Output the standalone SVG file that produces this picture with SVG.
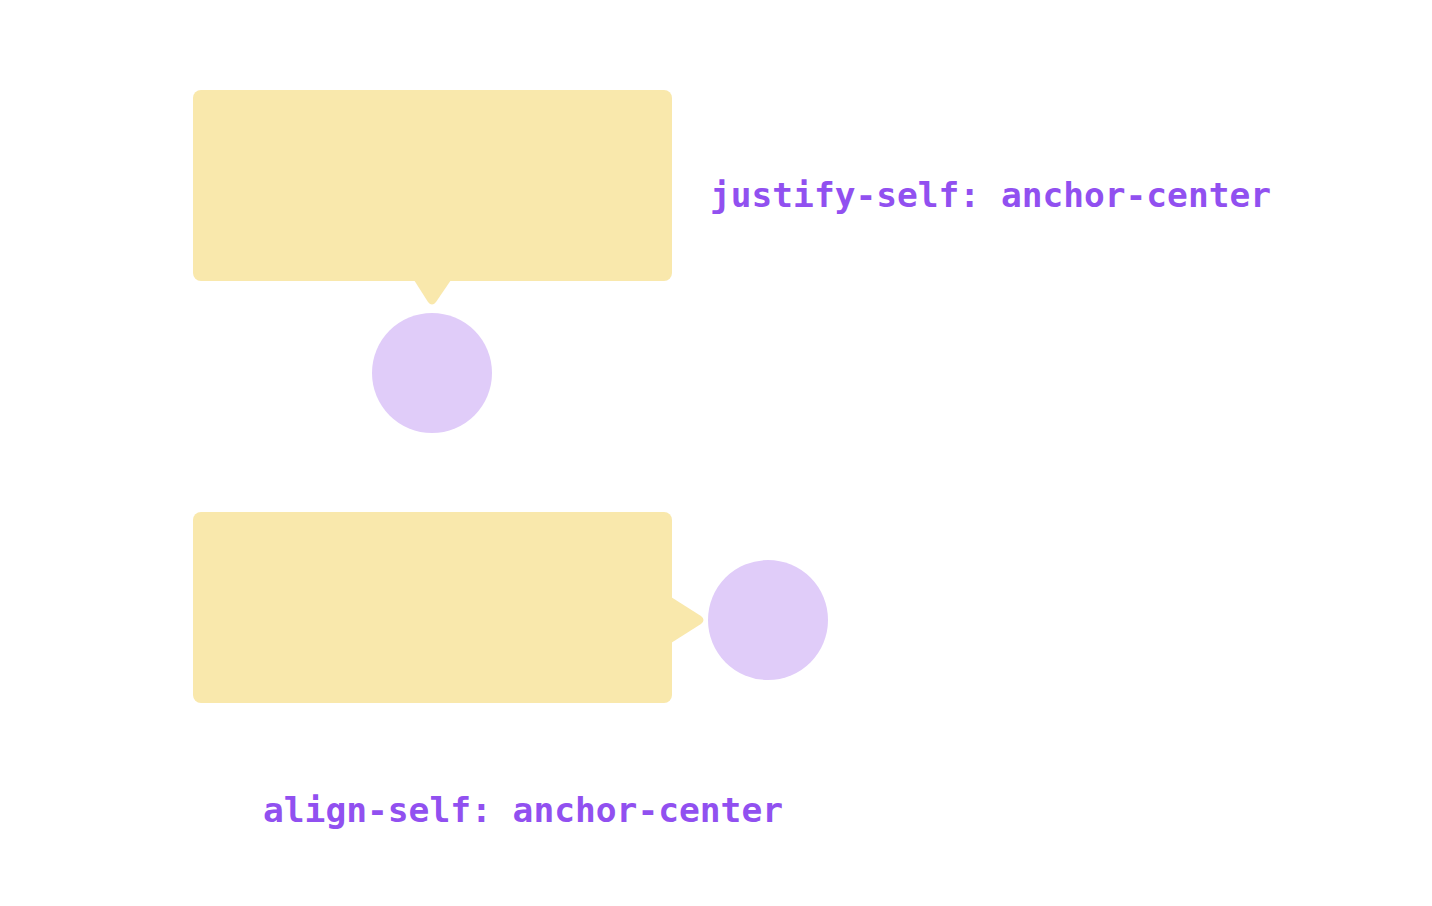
<svg xmlns="http://www.w3.org/2000/svg" width="1432" height="906" viewBox="0 0 1432 906">
<style>
.box{fill:#F9E8AC}
.dot{fill:#E0CCF9}
.lbl{font-family:"DejaVu Sans Mono","Liberation Mono",monospace;font-size:34px;font-weight:bold;fill:#9150F0}
</style>
<rect width="1432" height="906" fill="#FFFFFF"/>
<g id="node-top-box">
<rect class="box" x="193" y="90" width="479" height="191" rx="8"/>
<path class="box" d="M414 280 L451 280 L436 302 Q432 307 428 302 Z"/>
</g>
<g id="node-top-circle"><circle class="dot" cx="432" cy="373" r="60"/></g>
<g id="node-bottom-box">
<rect class="box" x="193" y="512" width="479" height="191" rx="8"/>
<path class="box" d="M671 597 L671 643 L701 624 Q706 620 701 616 Z"/>
</g>
<g id="node-bottom-circle"><circle class="dot" cx="768" cy="620" r="60"/></g>
<g id="connectors"></g>
<g id="labels">
<text class="lbl" x="710" y="207" textLength="561" lengthAdjust="spacingAndGlyphs">justify-self: anchor-center</text>
<text class="lbl" x="263" y="822" textLength="520" lengthAdjust="spacingAndGlyphs">align-self: anchor-center</text>
</g>
</svg>
